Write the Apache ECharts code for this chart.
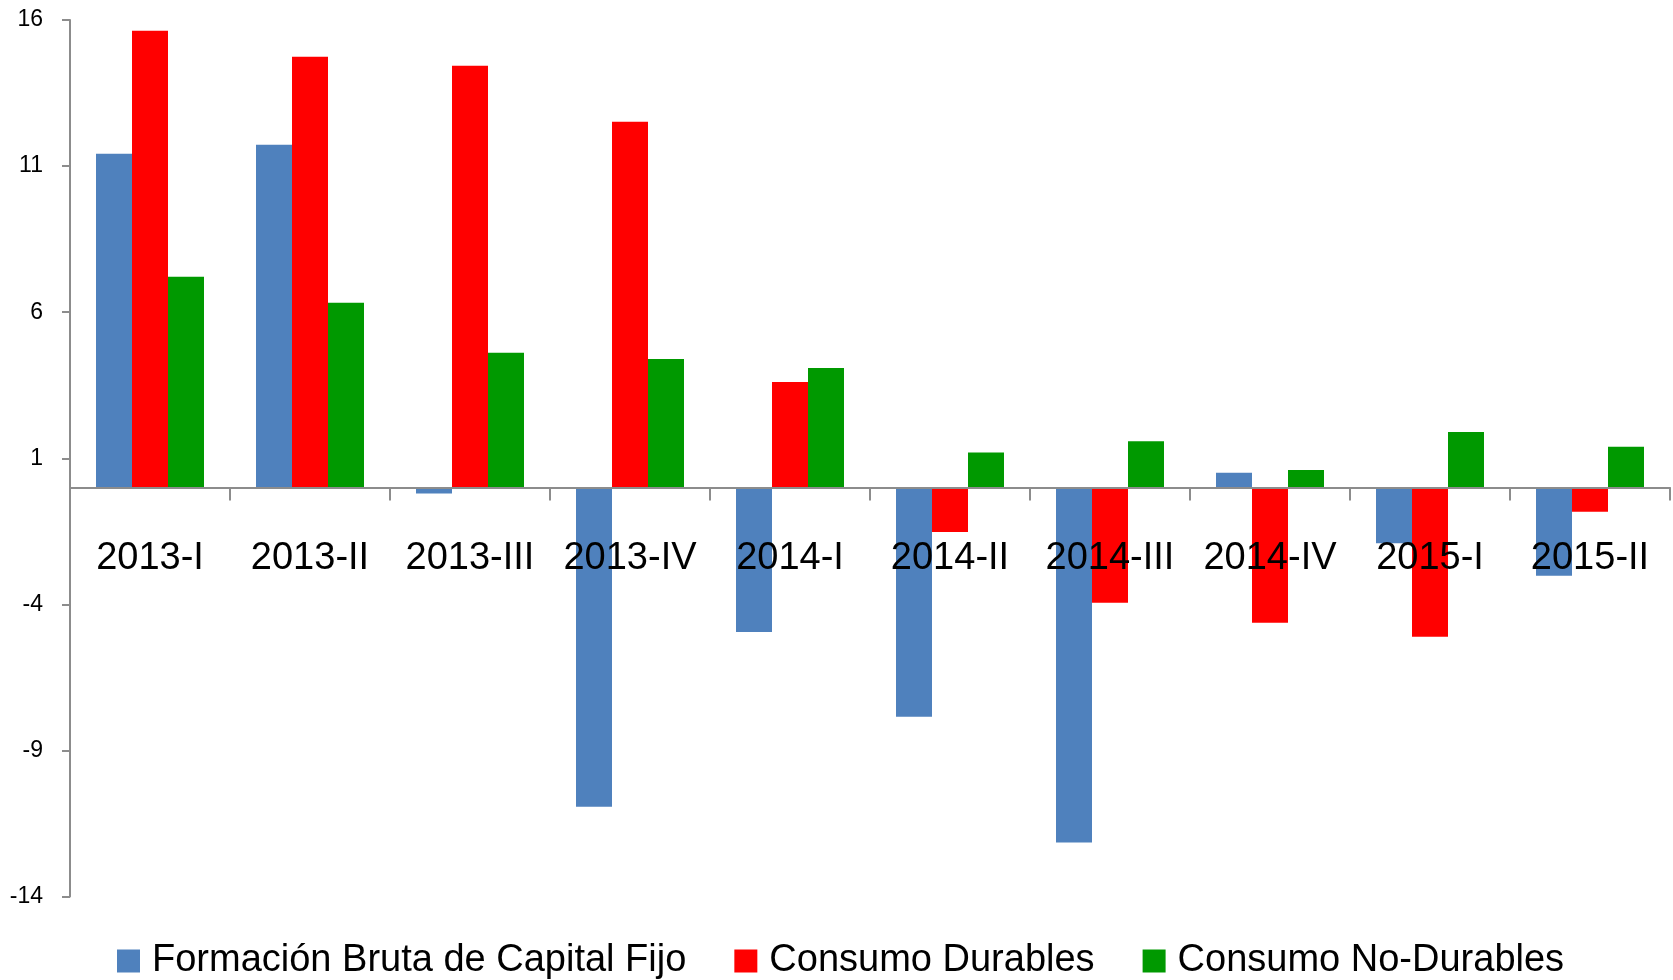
<!DOCTYPE html>
<html>
<head>
<meta charset="utf-8">
<script src="https://cdn.jsdelivr.net/npm/echarts@6/dist/echarts.min.js"></script>
<style>
  html, body { margin: 0; padding: 0; background: #fff; }
  #chartBar { width: 1673px; height: 980px; }
</style>
</head>
<body>
<div id="chartBar"></div>
<script>
// datos trimestrales
const categories = ['2013-I', '2013-II', '2013-III', '2013-IV', '2014-I', '2014-II', '2014-III', '2014-IV', '2015-I', '2015-II'];
const fbcfData = [11.42, 11.73, -0.21, -10.93, -4.95, -7.85, -12.15, 0.5, -1.91, -3.02];
const durablesData = [15.63, 14.74, 14.43, 12.52, 3.61, -1.52, -3.95, -4.63, -5.11, -0.83];
const noDurablesData = [7.21, 6.32, 4.61, 4.4, 4.09, 1.2, 1.58, 0.6, 1.9, 1.39];
const yTicks = [-14, -9, -4, 1, 6, 11, 16];

const fontFamily = '"Liberation Sans", Arial, sans-serif';
const axisColor = '#8c8c8c';

const chartBar = echarts.init(document.getElementById('chartBar'));

const makeSeries = (name, data, color) => ({
  name,
  type: 'bar',
  data,
  barGap: 0,
  barCategoryGap: '32.5%',
  itemStyle: { color },
});

chartBar.setOption({
  animation: false,
  grid: {
    left: 70,
    right: 3,
    top: 20,
    bottom: 83.5,
    containLabel: false,
  },
  legend: {
    left: 117,
    top: 942,
    padding: 0,
    icon: 'rect',
    itemWidth: 23,
    itemHeight: 23,
    itemGap: 48,
    textStyle: {
      fontFamily,
      fontSize: 38,
      color: '#000',
      padding: [0, 0, 0, 7],
    },
    data: ['Formación Bruta de Capital Fijo', 'Consumo Durables', 'Consumo No-Durables'],
  },
  xAxis: {
    type: 'category',
    data: categories,
    z: 10, // etiquetas por encima de las barras
    axisLine: {
      onZero: true,
      lineStyle: { color: axisColor, width: 2 },
    },
    axisTick: {
      show: true,
      length: 13,
      lineStyle: { color: axisColor, width: 2 },
    },
    axisLabel: {
      interval: 0,
      margin: -357, // las etiquetas se quedan abajo, se suben junto a la linea del cero
      fontFamily,
      fontSize: 38,
      color: '#000',
    },
    splitLine: { show: false },
  },
  yAxis: {
    type: 'value',
    min: -14,
    max: 16,
    axisLine: {
      show: true,
      lineStyle: { color: axisColor, width: 2 },
    },
    axisTick: {
      show: true,
      length: 8,
      customValues: yTicks,
      lineStyle: { color: axisColor, width: 2 },
    },
    axisLabel: {
      margin: 27,
      customValues: yTicks,
      fontFamily,
      fontSize: 23,
      color: '#000',
    },
    splitLine: { show: false },
  },
  series: [
    makeSeries('Formación Bruta de Capital Fijo', fbcfData, '#4f81bd'),
    makeSeries('Consumo Durables', durablesData, '#ff0000'),
    makeSeries('Consumo No-Durables', noDurablesData, '#009900'),
  ],
});
</script>
</body>
</html>
